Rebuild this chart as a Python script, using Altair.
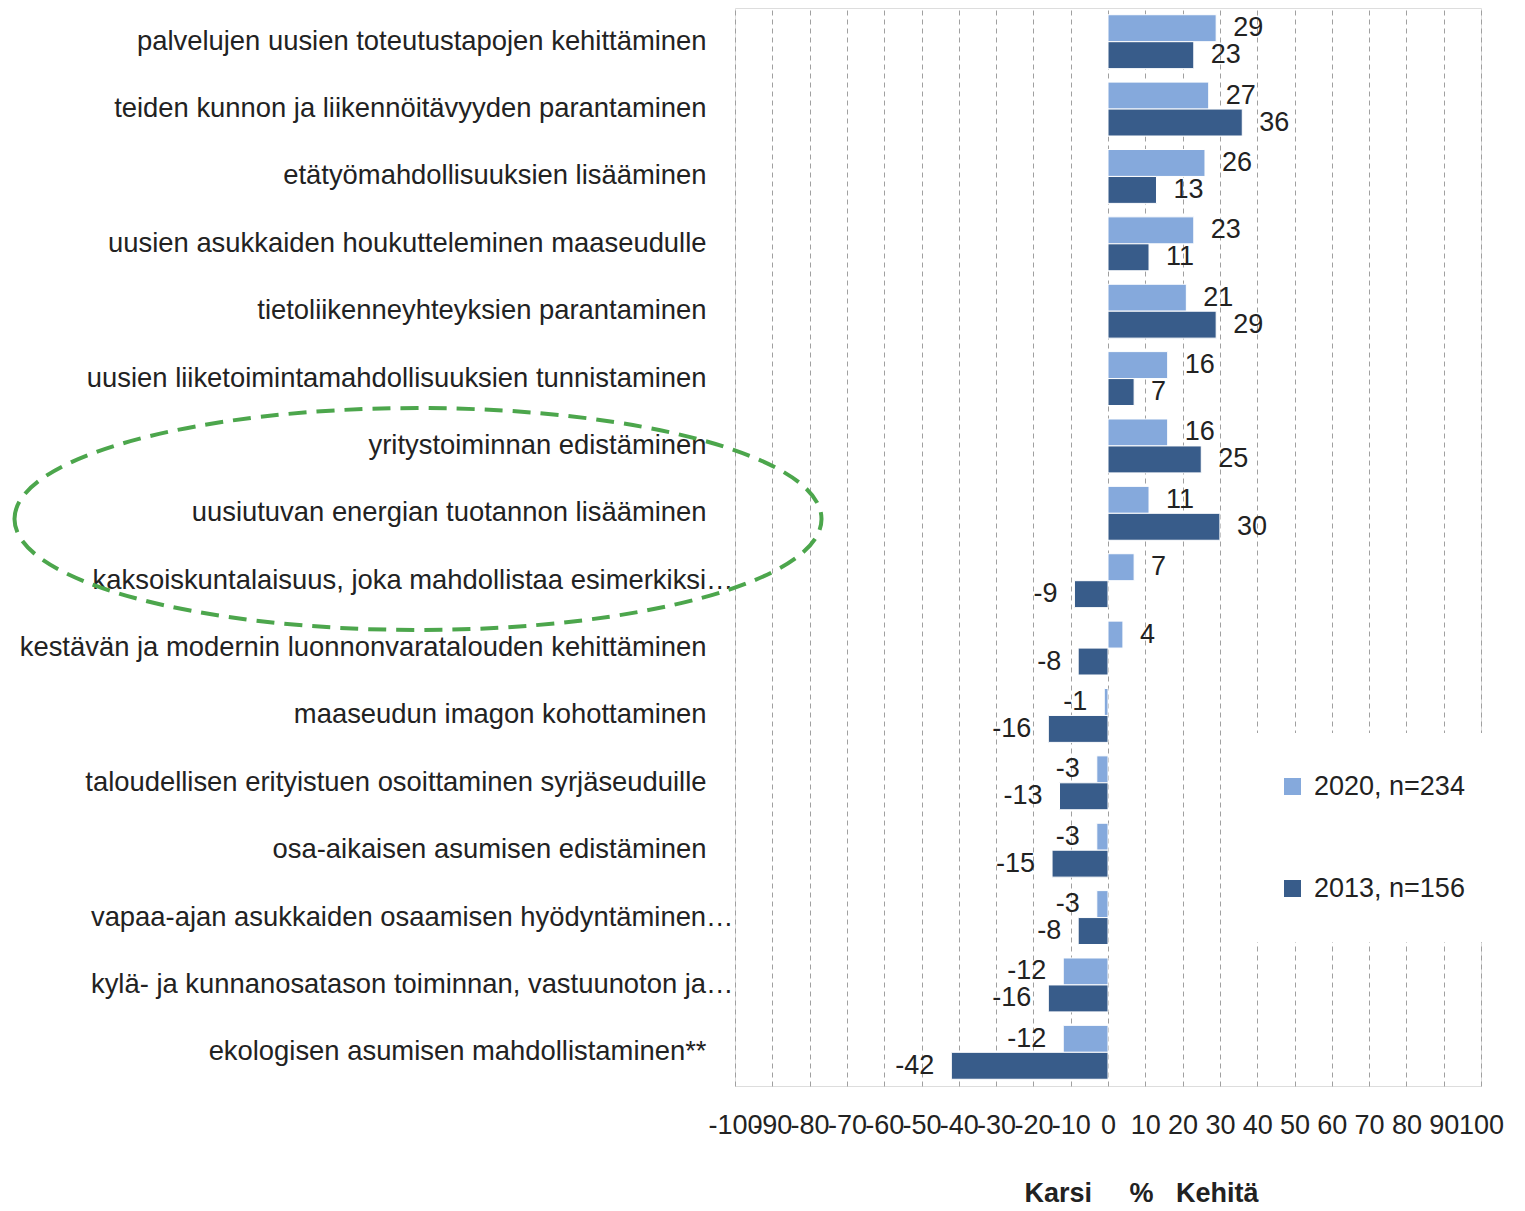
import altair as alt
import pandas as pd

categories = [
    "palvelujen uusien toteutustapojen kehittäminen",
    "teiden kunnon ja liikennöitävyyden parantaminen",
    "etätyömahdollisuuksien lisääminen",
    "uusien asukkaiden houkutteleminen maaseudulle",
    "tietoliikenneyhteyksien parantaminen",
    "uusien liiketoimintamahdollisuuksien tunnistaminen",
    "yritystoiminnan edistäminen",
    "uusiutuvan energian tuotannon lisääminen",
    "kaksoiskuntalaisuus, joka mahdollistaa esimerkiksi…",
    "kestävän ja modernin luonnonvaratalouden kehittäminen",
    "maaseudun imagon kohottaminen",
    "taloudellisen erityistuen osoittaminen syrjäseuduille",
    "osa-aikaisen asumisen edistäminen",
    "vapaa-ajan asukkaiden osaamisen hyödyntäminen…",
    "kylä- ja kunnanosatason toiminnan, vastuunoton ja…",
    "ekologisen asumisen mahdollistaminen**",
]
values_2020 = [29, 27, 26, 23, 21, 16, 16, 11, 7, 4, -1, -3, -3, -3, -12, -12]
values_2013 = [23, 36, 13, 11, 29, 7, 25, 30, -9, -8, -16, -13, -15, -8, -16, -42]
series_names = ["2020, n=234", "2013, n=156"]
series_colors = ["#85A9DC", "#385C8A"]
x_ticks = list(range(-100, 101, 10))
highlight = ["uusiutuvan energian tuotannon lisääminen"]

rows = []
for c, v20, v13 in zip(categories, values_2020, values_2013):
    rows.append({"category": c, "series": series_names[0], "value": v20, "label": str(v20)})
    rows.append({"category": c, "series": series_names[1], "value": v13, "label": str(v13)})
df = pd.DataFrame(rows)

FONT = "Liberation Sans"
FS = 27
CAT_FS = 27.4
TXT = "#222222"
W, H = 746, 1078

x_scale = alt.Scale(domain=[-100, 100], nice=False)
y_scale = alt.Scale(paddingInner=0, paddingOuter=0)
yoff_scale = alt.Scale(paddingInner=0, paddingOuter=0.25)

y_axis = alt.Axis(
    title=None,
    domain=False,
    ticks=False,
    grid=False,
    labelFontSize=CAT_FS,
    labelColor=TXT,
    labelFont=FONT,
    labelLimit=1000,
    labelPadding={"condition": {"test": "indexof(datum.label, '…') >= 0", "value": 2}, "value": 29},
)
x_axis = alt.Axis(
    values=x_ticks,
    labelExpr="'' + datum.value",
    grid=True,
    gridDash=[5, 4],
    gridColor="#A0A0A0",
    gridWidth=1,
    domain=False,
    ticks=False,
    labelOverlap=False,
    labelFlush=False,
    labelFontSize=FS,
    labelFont=FONT,
    labelColor=TXT,
    labelPadding=26,
    title="Karsi\u00a0\u00a0\u00a0\u00a0\u00a0%\u00a0\u00a0\u00a0Kehitä",
    titleFont=FONT,
    titleFontSize=FS,
    titleFontWeight="bold",
    titleColor=TXT,
    titleX=406,
    titleY=115,
    titleAlign="center",
    titleBaseline="alphabetic",
)

bars = alt.Chart(df).mark_bar(stroke="white", strokeWidth=1).encode(
    y=alt.Y("category:N", sort=categories, scale=y_scale, axis=y_axis),
    yOffset=alt.YOffset("series:N", sort=series_names, scale=yoff_scale),
    x=alt.X("value:Q", scale=x_scale, axis=x_axis),
    color=alt.Color(
        "series:N",
        scale=alt.Scale(domain=series_names, range=series_colors),
        legend=alt.Legend(
            title=None,
            orient="none",
            legendX=504,
            legendY=725,
            fillColor="white",
            padding=40,
            symbolType="square",
            symbolSize=289,
            symbolStrokeWidth=0,
            labelFontSize=FS,
            labelFont=FONT,
            labelColor=TXT,
            labelOffset=8,
            rowPadding=74,
            labelLimit=400,
        ),
    ),
)

def value_labels(cond, align, dx):
    return alt.Chart(df).transform_filter(cond).mark_text(
        align=align, baseline="middle", dx=dx, fontSize=FS, font=FONT, color=TXT
    ).encode(
        y=alt.Y("category:N", sort=categories, scale=y_scale, axis=y_axis),
        yOffset=alt.YOffset("series:N", sort=series_names, scale=yoff_scale),
        x=alt.X("value:Q", scale=x_scale, axis=x_axis),
        text=alt.Text("label:N"),
    )

pos_labels = value_labels("datum.value >= 0", "left", 17)
neg_labels = value_labels("datum.value < 0", "right", -17)

ellipse_path = "M -1 0 A 1 0.275 0 1 1 1 0 A 1 0.275 0 1 1 -1 0 Z"
ellipse = alt.Chart(pd.DataFrame({"category": highlight})).mark_point(
    shape=ellipse_path,
    size=807 * 807,
    filled=False,
    stroke="#4CA64C",
    strokeWidth=4,
    strokeDash=[18, 10],
    opacity=1,
).encode(
    y=alt.value(511),
    x=alt.value(418 - 735),
)

chart = alt.layer(bars, pos_labels, neg_labels, ellipse).properties(
    width=W,
    height=H,
    autosize=alt.AutoSizeParams(type="none"),
    padding={"left": 727, "top": 0, "right": 30, "bottom": 130},
).configure_view(strokeWidth=0, stroke="transparent").configure(font=FONT)

chart.save("out.html", embed_options={"renderer": "svg", "actions": False})
